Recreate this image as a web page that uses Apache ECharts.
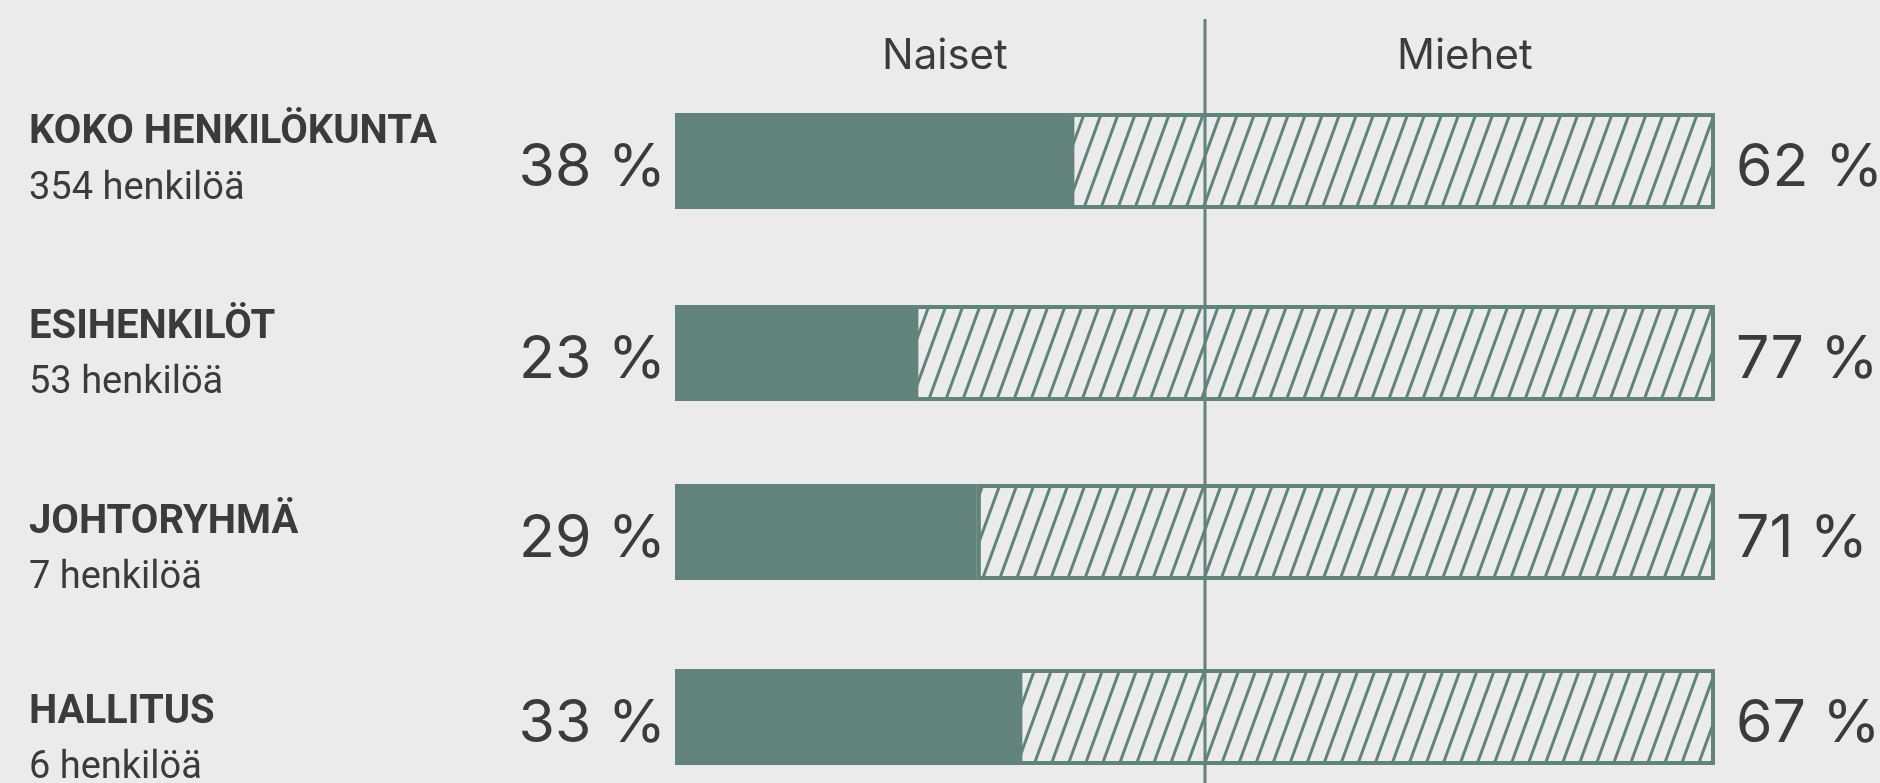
<!DOCTYPE html>
<html>
<head>
<meta charset="utf-8">
<script src="https://cdn.jsdelivr.net/npm/echarts@6/dist/echarts.min.js"></script>
<style>
html,body{margin:0;padding:0;background:#ebebeb;}
#chart{width:1880px;height:783px;}
</style>
</head>
<body>
<div id="chart"></div>
<script>
// ---- data ----
const categories = ['KOKO HENKILÖKUNTA', 'ESIHENKILÖT', 'JOHTORYHMÄ', 'HALLITUS'];
const headcounts = [354, 53, 7, 6];
const countUnit = 'henkilöä';
const women = [38, 23, 29, 33];
const men = [62, 77, 71, 67];
const headers = ['Naiset', 'Miehet'];

// ---- layout ----
const rowTops = [113, 305, 484, 669];
const rowHeight = 96;
const labelShift = [0, 2.5, 18.5, 23.5];
const teal = '#62827c';
const bg = '#ebebeb';
const ink = '#3b3b3b';
const gridLeft = 675, gridRight = 1880 - 1715;
const dividerX = 1205;

const grids = [], xAxes = [], yAxes = [], series = [];
categories.forEach((cat, i) => {
  grids.push({left: gridLeft, right: gridRight, top: rowTops[i], height: rowHeight,
    containLabel: false, outerBoundsMode: 'none'});
  xAxes.push({type: 'value', gridIndex: i, min: 0, max: 100, show: false});
  const d = labelShift[i];
  yAxes.push({
    type: 'category', gridIndex: i, data: [cat],
    axisLine: {show: false}, axisTick: {show: false}, splitLine: {show: false},
    axisLabel: {
      margin: gridLeft - 29, align: 'left',
      padding: d > 0 ? [2 * d, 0, 0, 0] : [0, 0, -2 * d, 0],
      formatter: () => `{t|${cat}}\n{s|${headcounts[i]} ${countUnit}}`,
      rich: {
        t: {fontFamily: 'Roboto', fontWeight: 'bold', fontSize: 40, color: ink, lineHeight: 56},
        s: {fontFamily: 'Roboto', fontSize: 38, color: ink, lineHeight: 56}
      }
    }
  });
  series.push({
    type: 'bar', name: headers[0], stack: 'g' + i, xAxisIndex: i, yAxisIndex: i,
    barWidth: rowHeight, data: [women[i]],
    itemStyle: {color: teal, borderColor: teal, borderWidth: 0},
    label: {show: true, position: 'left', distance: 9, offset: [0, 7], formatter: '{c} %',
      fontFamily: 'Inter', fontSize: 59, color: ink},
    z: 3
  });
  series.push({
    type: 'bar', name: headers[1], stack: 'g' + i, xAxisIndex: i, yAxisIndex: i,
    barWidth: rowHeight, data: [men[i]],
    itemStyle: {
      color: bg, borderColor: teal, borderWidth: 4,
      decal: {symbol: 'rect', symbolSize: 1, dashArrayX: [2.5, 13], dashArrayY: [1, 0],
        rotation: 0.35, color: teal, backgroundColor: null}
    },
    label: {show: true, position: 'right', distance: 21, offset: [0, 7], formatter: '{c} %',
      fontFamily: 'Inter', fontSize: 59, color: ink},
    z: 2
  });
});

const chart = echarts.init(document.getElementById('chart'), null, {renderer: 'canvas'});
chart.setOption({
  backgroundColor: bg,
  animation: false,
  grid: grids, xAxis: xAxes, yAxis: yAxes, series: series,
  graphic: [
    {type: 'line', z: 100, shape: {x1: dividerX, y1: 19, x2: dividerX, y2: 783},
      style: {stroke: teal, lineWidth: 3}},
    {type: 'text', left: 944 - 62, top: 35, style: {text: headers[0], font: '42px Inter', fill: ink}},
    {type: 'text', left: 1463 - 66, top: 35, style: {text: headers[1], font: '42px Inter', fill: ink}}
  ]
});
</script>
</body>
</html>
